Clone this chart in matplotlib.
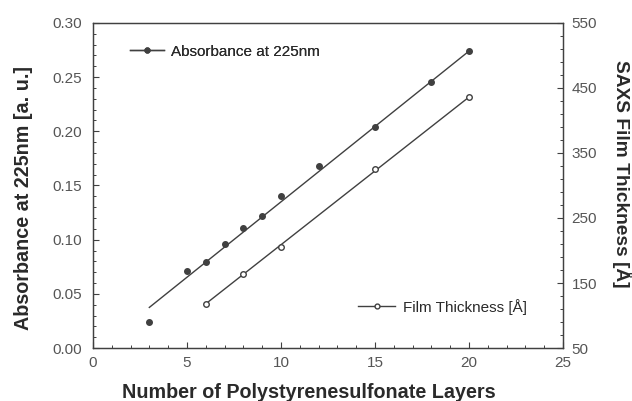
import matplotlib
matplotlib.use('Agg')
import matplotlib.pyplot as plt
from matplotlib.lines import Line2D
from matplotlib.ticker import MultipleLocator, FormatStrFormatter

plt.rcParams['font.family'] = ['Liberation Sans', 'DejaVu Sans']

# --- Data ---
layers_abs = [3, 5, 6, 7, 8, 9, 10, 12, 15, 18, 20]
absorbance = [0.024, 0.071, 0.079, 0.096, 0.111, 0.122, 0.140, 0.168, 0.204, 0.245, 0.274]
fit_abs_x = [3, 20]
fit_abs_y = [0.0375, 0.274]

layers_thk = [6, 8, 10, 15, 20]
thickness = [118, 164, 206, 325, 436]
fit_thk_x = [6, 20]
fit_thk_y = [118, 436]

thk_ticks = [50, 150, 250, 350, 450, 550]

LINE = '#404040'
TXT = '#2a2a2a'
TICK = '#555555'

fig = plt.figure(figsize=(6.32, 4.01), dpi=100, facecolor='white')
ax = fig.add_axes([0.147, 0.132, 0.744, 0.811])
ax2 = ax.twinx()

# absorbance: filled points + linear fit
ax.plot(fit_abs_x, fit_abs_y, color=LINE, lw=1.0)
ax.plot(layers_abs, absorbance, 'o', color=LINE, ms=4)

# film thickness: open points + linear fit
ax2.plot(fit_thk_x, fit_thk_y, color=LINE, lw=1.0)
ax2.plot(layers_thk, thickness, 'o', mfc='white', mec=LINE, mew=1.0, ms=4)

ax.set_xlim(0, 25)
ax.set_ylim(0, 0.30)
ax2.set_ylim(50, 550)

ax.xaxis.set_major_locator(MultipleLocator(5))
ax.xaxis.set_minor_locator(MultipleLocator(1))
ax.yaxis.set_major_locator(MultipleLocator(0.05))
ax.yaxis.set_minor_locator(MultipleLocator(0.01))
ax.yaxis.set_major_formatter(FormatStrFormatter('%.2f'))
ax2.set_yticks(thk_ticks)
ax2.set_yticks(range(50, 551, 20), minor=True)

for a in (ax, ax2):
    a.tick_params(which='major', direction='in', length=4, width=0.8, color=LINE,
                  labelsize=11, labelcolor=TICK, pad=6)
    a.tick_params(which='minor', direction='in', length=2.5, width=0.7, color=LINE)
    for sp in a.spines.values():
        sp.set_color(LINE)
        sp.set_linewidth(0.9)
ax.tick_params(axis='x', which='both', top=False)
ax.tick_params(axis='y', which='both', right=False)
ax.tick_params(axis='y', which='major', pad=8)

ax.set_xlabel('Number of Polystyrenesulfonate Layers', fontsize=14.2,
              fontweight='bold', color=TXT)
ax.xaxis.set_label_coords(0.4585, -0.107)
ax.set_ylabel('Absorbance at 225nm [a. u.]', fontsize=14.2,
              fontweight='bold', color=TXT)
ax.yaxis.set_label_coords(-0.128, 0.46)
ax2.set_ylabel('SAXS Film Thickness [Å]', fontsize=13.8, fontweight='bold',
               color=TXT, rotation=270, va='bottom')
ax2.yaxis.set_label_coords(1.104, 0.537)

# legend entries
h_abs = Line2D([], [], color=LINE, lw=1.0, marker='o', ms=3.5)
h_thk = Line2D([], [], color=LINE, lw=1.0, marker='o', ms=3.5, mfc='white')
leg1 = ax.legend([h_abs], ['Absorbance at 225nm'], loc='upper left',
                 bbox_to_anchor=(0.05, 0.975), frameon=False, fontsize=11,
                 handlelength=2.2, handletextpad=0.5, labelcolor=TXT)
ax.add_artist(leg1)
ax2.legend([h_thk], ['Film Thickness [Å]'], loc='lower left',
           bbox_to_anchor=(0.535, 0.06), frameon=False, fontsize=11,
           handlelength=2.4, handletextpad=0.5, labelcolor=TXT)

fig.savefig('out.png', dpi=100, facecolor='white')
